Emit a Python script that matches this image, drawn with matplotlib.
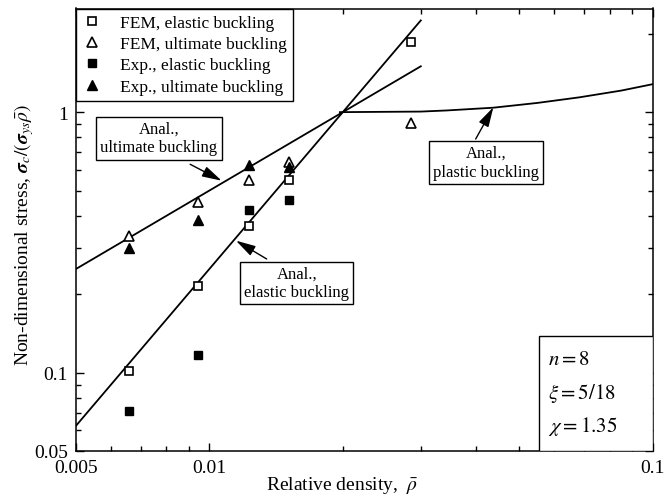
import matplotlib
matplotlib.use("Agg")
import matplotlib.pyplot as plt
from matplotlib.ticker import FixedLocator, NullFormatter, FixedFormatter
from matplotlib.patches import Rectangle

plt.rcParams["font.family"] = ["Liberation Serif", "DejaVu Serif"]
plt.rcParams["mathtext.fontset"] = "stix"

# measured / FEM points
rho_fem = [0.00659, 0.00944, 0.01228, 0.01513, 0.02857]
fem_elastic = [0.101, 0.215, 0.367, 0.550, 1.855]
fem_ultimate = [0.334, 0.451, 0.550, 0.646, 0.905]
rho_exp = [0.00659, 0.00944, 0.01228, 0.01513]
exp_elastic = [0.0710, 0.1164, 0.420, 0.459]
exp_ultimate = [0.302, 0.387, 0.628, 0.618]

# analytical curves
anal_rho = [0.005, 0.03]
anal_elastic = [0.0625, 2.25]
anal_ultimate = [0.25, 1.5]
plastic_rho = [0.0197, 0.03, 0.0343, 0.0437, 0.055, 0.0684, 0.085, 0.1]
anal_plastic = [1.0, 1.005, 1.015, 1.04, 1.085, 1.14, 1.21, 1.28]

xticks = [0.005, 0.01, 0.1]
xticklabels = ["0.005", "0.01", "0.1"]
yticks = [0.05, 0.1, 1]
yticklabels = ["0.05", "0.1", "1"]

fig = plt.figure(figsize=(6.67, 5.02), dpi=100)
ax = fig.add_axes([76 / 667, 50 / 502, 576.5 / 667, 442.5 / 502])
ax.set_xscale("log")
ax.set_yscale("log")
ax.set_xlim(0.005, 0.1)
ax.set_ylim(0.05, 2.5)

lw = 1.3
ax.plot(anal_rho, anal_elastic, color="k", lw=lw)
ax.plot(anal_rho, anal_ultimate, color="k", lw=lw)
ax.plot(plastic_rho, anal_plastic, color="k", lw=lw)

ms = 5.5
ax.plot(rho_fem, fem_elastic, ls="none", marker="s", ms=ms, mfc="white", mec="k", mew=1.2,
        label="FEM, elastic buckling")
ax.plot(rho_fem, fem_ultimate, ls="none", marker="^", ms=ms + 1, mfc="white", mec="k", mew=1.2,
        label="FEM, ultimate buckling")
ax.plot(rho_exp, exp_elastic, ls="none", marker="s", ms=ms, mfc="k", mec="k",
        label="Exp., elastic buckling")
ax.plot(rho_exp, exp_ultimate, ls="none", marker="^", ms=ms + 1, mfc="k", mec="k",
        label="Exp., ultimate buckling")

# ticks
ax.xaxis.set_major_locator(FixedLocator(xticks))
ax.xaxis.set_major_formatter(FixedFormatter(xticklabels))
ax.xaxis.set_minor_locator(FixedLocator([0.006, 0.007, 0.008, 0.009, 0.02, 0.03, 0.04,
                                         0.05, 0.06, 0.07, 0.08, 0.09]))
ax.xaxis.set_minor_formatter(NullFormatter())
ax.yaxis.set_major_locator(FixedLocator(yticks))
ax.yaxis.set_major_formatter(FixedFormatter(yticklabels))
ax.yaxis.set_minor_locator(FixedLocator([0.06, 0.07, 0.08, 0.09, 0.2, 0.3, 0.4, 0.5,
                                         0.6, 0.7, 0.8, 0.9, 2]))
ax.yaxis.set_minor_formatter(NullFormatter())
ax.tick_params(which="both", direction="in", top=True, right=True, width=1.0,
               labelsize=14, pad=6)
ax.tick_params(which="major", length=6)
ax.tick_params(which="minor", length=3.6)
for s in ax.spines.values():
    s.set_linewidth(1.1)

ax.set_xlabel(r"Relative density,  $\bar{\rho}$", fontsize=14)
ax.xaxis.set_label_coords(0.461, -0.052)
ax.set_ylabel(r"Non-dimensional stress, $\boldsymbol{\sigma}_c/\left(\boldsymbol{\sigma}_{ys}\bar{\rho}\right)$",
              fontsize=14)
ax.yaxis.set_label_coords(-0.07, 0.49)

leg = ax.legend(loc="upper left", bbox_to_anchor=(0, 1), borderaxespad=0, fontsize=12.5,
                frameon=True, fancybox=False, edgecolor="k", framealpha=1,
                handlelength=1.2, handletextpad=1.0, labelspacing=0.3, borderpad=0.35)
leg.get_frame().set_linewidth(1.0)

box = dict(boxstyle="square,pad=0.25", fc="white", ec="k", lw=1.0)
arrow = dict(arrowstyle="-|>,head_length=0.8,head_width=0.22", color="k", lw=1.0,
             mutation_scale=15, shrinkA=0, shrinkB=0)

ax.text(0.144, 0.707, "Anal.,\nultimate buckling", transform=ax.transAxes, fontsize=12,
        ha="center", va="center", multialignment="center", bbox=box)
ax.annotate("", xy=(0.2527, 0.6108), xytext=(0.198, 0.648), xycoords="axes fraction",
            textcoords="axes fraction", arrowprops=arrow)

ax.text(0.3828, 0.3797, "Anal.,\nelastic buckling", transform=ax.transAxes, fontsize=12,
        ha="center", va="center", multialignment="center", bbox=box)
ax.annotate("", xy=(0.2775, 0.4753), xytext=(0.3308, 0.4339), xycoords="axes fraction",
            textcoords="axes fraction", arrowprops=arrow)

ax.text(0.7117, 0.6524, "Anal.,\nplastic buckling", transform=ax.transAxes, fontsize=12,
        ha="center", va="center", multialignment="center", bbox=box)
ax.annotate("", xy=(0.7239, 0.7767), xytext=(0.6933, 0.7051), xycoords="axes fraction",
            textcoords="axes fraction", arrowprops=arrow)

# parameter box
ax.add_patch(Rectangle((0.8036, 0), 0.1964, 0.2606, transform=ax.transAxes,
                       fc="white", ec="k", lw=1.0, zorder=5))
for yy, s in zip([0.207, 0.133, 0.057], [r"$n = 8$", r"$\xi = 5/18$", r"$\chi = 1.35$"]):
    ax.text(0.8188, yy, s, transform=ax.transAxes, fontsize=15, ha="left", va="center",
            zorder=6)

fig.savefig("out.png", dpi=100)
